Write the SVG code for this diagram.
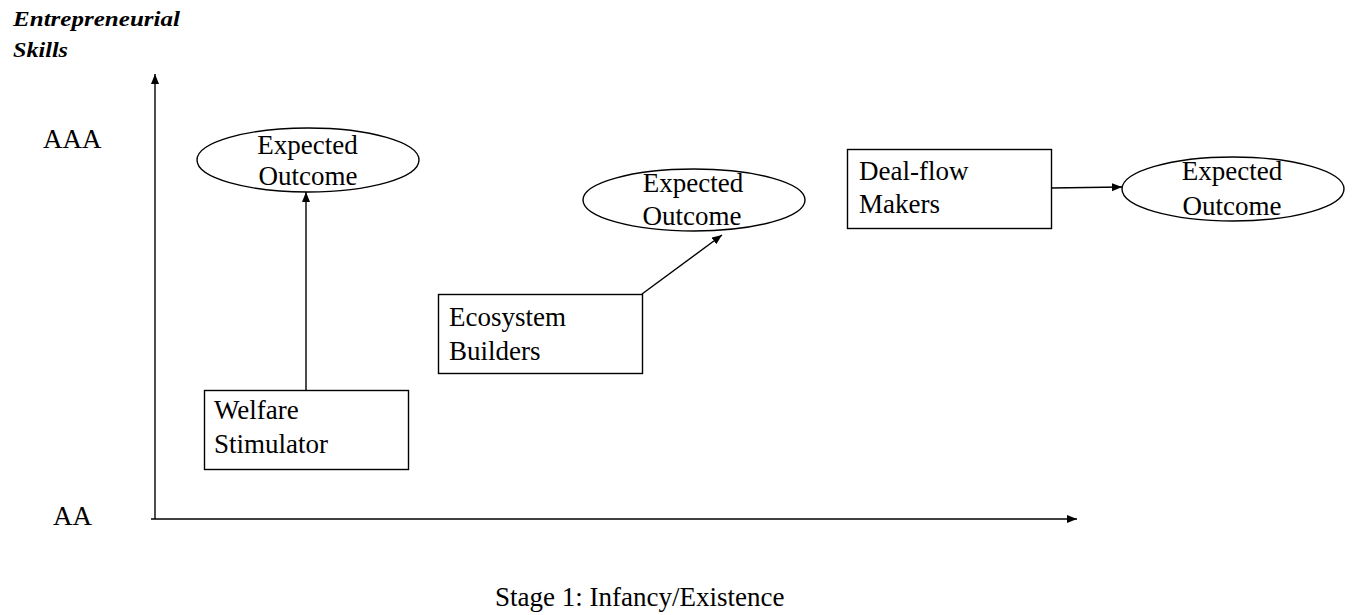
<svg xmlns="http://www.w3.org/2000/svg" width="1354" height="615" viewBox="0 0 1354 615">
  <style>
    .lbl { font-family: "Liberation Serif", "Times New Roman", serif; font-size: 27px; fill: #000; }
    .mid { text-anchor: middle; }
    .title { font-family: "Liberation Serif", "Times New Roman", serif; font-size: 21px; font-weight: bold; font-style: italic; fill: #000; }
    .box { fill: #fff; stroke: #000; stroke-width: 1.4; }
    .oval { fill: #fff; stroke: #000; stroke-width: 1.4; }
    .line { fill: none; stroke: #000; stroke-width: 1.4; }
  </style>
  <defs>
    <marker id="arrow" markerUnits="userSpaceOnUse" markerWidth="12" markerHeight="10" refX="10" refY="4" orient="auto">
      <path d="M0,0 L10,4 L0,8 Z" fill="#000"/>
    </marker>
  </defs>
  <rect width="1354" height="615" fill="#fff"/>

  <!-- axis title -->
  <g id="axis-title">
    <text class="title" x="13" y="26" textLength="167" lengthAdjust="spacingAndGlyphs">Entrepreneurial</text>
    <text class="title" x="13" y="57" textLength="55" lengthAdjust="spacingAndGlyphs">Skills</text>
  </g>

  <!-- axis level labels -->
  <g id="level-high"><text class="lbl" x="43" y="148">AAA</text></g>
  <g id="level-low"><text class="lbl" x="53" y="525">AA</text></g>
  <g id="stage-label"><text class="lbl" x="495" y="606">Stage 1: Infancy/Existence</text></g>

  <!-- connectors: axes and arrows -->
  <g id="connectors">
    <line class="line" x1="155" y1="519" x2="155" y2="74" marker-end="url(#arrow)"/>
    <line class="line" x1="151" y1="519" x2="1077" y2="519" marker-end="url(#arrow)"/>
    <line class="line" x1="306" y1="390" x2="306" y2="192" marker-end="url(#arrow)"/>
    <line class="line" x1="642" y1="294" x2="722" y2="235" marker-end="url(#arrow)"/>
    <line class="line" x1="1051" y1="188" x2="1122" y2="187" marker-end="url(#arrow)"/>
  </g>

  <!-- Welfare Stimulator -->
  <g id="welfare-stimulator">
    <rect class="box" x="204.5" y="390.5" width="204" height="79"/>
    <text class="lbl" x="214" y="419">Welfare</text>
    <text class="lbl" x="214" y="453">Stimulator</text>
  </g>
  <g id="outcome-1">
    <ellipse class="oval" cx="308" cy="160" rx="111" ry="32"/>
    <text class="lbl mid" x="307.5" y="154">Expected</text>
    <text class="lbl mid" x="308" y="185">Outcome</text>
  </g>

  <!-- Ecosystem Builders -->
  <g id="ecosystem-builders">
    <rect class="box" x="438.5" y="294.5" width="204" height="79"/>
    <text class="lbl" x="449" y="326">Ecosystem</text>
    <text class="lbl" x="449" y="360">Builders</text>
  </g>
  <g id="outcome-2">
    <ellipse class="oval" cx="694" cy="200" rx="111" ry="31"/>
    <text class="lbl mid" x="693" y="192">Expected</text>
    <text class="lbl mid" x="692" y="225">Outcome</text>
  </g>

  <!-- Deal-flow Makers -->
  <g id="deal-flow-makers">
    <rect class="box" x="847.5" y="149.5" width="204" height="79"/>
    <text class="lbl" x="859" y="180">Deal-flow</text>
    <text class="lbl" x="859" y="213">Makers</text>
  </g>
  <g id="outcome-3">
    <ellipse class="oval" cx="1233" cy="189" rx="111" ry="32"/>
    <text class="lbl mid" x="1232" y="180">Expected</text>
    <text class="lbl mid" x="1232" y="215">Outcome</text>
  </g>
</svg>
